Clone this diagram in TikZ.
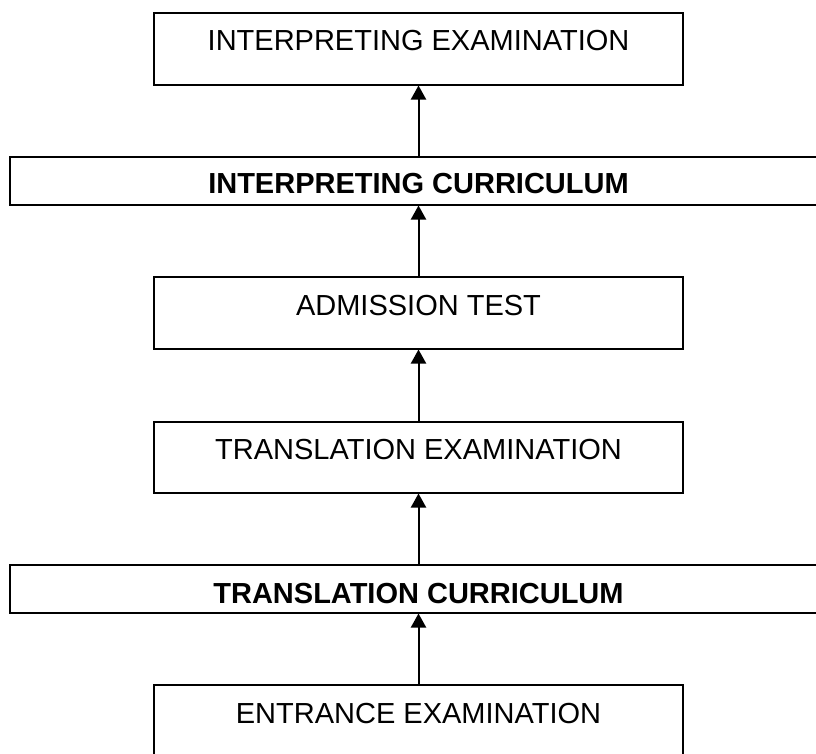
\documentclass[tikz,border=0pt]{standalone}
\usepackage{fontspec}
\setmainfont{Liberation Sans}
\usetikzlibrary{arrows.meta}
\begin{document}
\begin{tikzpicture}[x=1pt,y=-1pt]
				\tikzstyle{Stage} = [draw, line width=1.5pt, anchor=north, inner xsep=0pt, inner ysep=0pt, minimum width=529pt, text height=38pt, text depth=34pt, font=\fontsize{29}{34}\selectfont]
				\tikzstyle{Course} = [Stage, minimum width=817pt, font=\fontsize{29}{34}\selectfont\bfseries]
				\tikzstyle{Up} = [-{Triangle[length=14pt,width=15pt]}, line width=2pt]
				\useasboundingbox (0,0) rectangle (816,753);
				\node (interpexam) at (418.5,12) [Stage] {INTERPRETING EXAMINATION};
				\node (interpcurr) at (418.5,156) [Course, text height=37pt, text depth=11pt] {INTERPRETING CURRICULUM};
				\node (admission) at (418.5,276) [Stage, text height=39pt, text depth=33pt] {ADMISSION TEST};
				\node (translexam) at (418.5,421) [Stage, text height=38pt, text depth=33pt] {TRANSLATION EXAMINATION};
				\node (translcurr) at (418.5,564) [Course, text height=39pt, text depth=9pt] {TRANSLATION CURRICULUM};
				\node (entrance) at (418.5,684) [Stage, text height=39pt, text depth=33pt] {ENTRANCE EXAMINATION};
				\draw [Up] (entrance) to (translcurr);
				\draw [Up] (translcurr) to (translexam);
				\draw [Up] (translexam) to (admission);
				\draw [Up] (admission) to (interpcurr);
				\draw [Up] (interpcurr) to (interpexam);
			\end{tikzpicture}
\end{document}
